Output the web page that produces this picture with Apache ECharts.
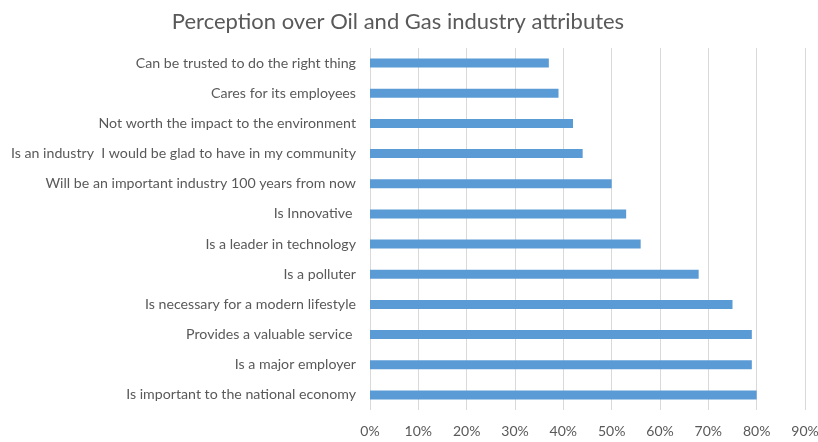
<!DOCTYPE html>
<html>
<head>
<meta charset="utf-8">
<script src="https://cdn.jsdelivr.net/npm/echarts@6/dist/echarts.min.js"></script>
<style>
  html, body { margin: 0; padding: 0; background: #fff; }
  #chart { width: 818px; height: 442px; }
</style>
</head>
<body>
<div id="chart"></div>
<script>
// Attribute statements, listed top to bottom
const categories = [
  "Can be trusted to do the right thing",
  "Cares for its employees",
  "Not worth the impact to the environment",
  "Is an industry  I would be glad to have in my community",
  "Will be an important industry 100 years from now",
  "Is Innovative ",
  "Is a leader in technology",
  "Is a polluter",
  "Is necessary for a modern lifestyle",
  "Provides a valuable service ",
  "Is a major employer",
  "Is important to the national economy"
];

// Share of respondents agreeing (fraction)
const agreeShare = [0.37, 0.39, 0.42, 0.44, 0.50, 0.53, 0.56, 0.68, 0.75, 0.79, 0.79, 0.80];

const axisMax = 0.9;
const axisStep = 0.1;

const chart = echarts.init(document.getElementById('chart'));
chart.setOption({
  animation: false,
  textStyle: { fontFamily: 'Lato, "Open Sans", sans-serif' },
  title: {
    text: 'Perception over Oil and Gas industry attributes',
    left: 393,
    textAlign: 'center',
    top: 6,
    textStyle: { fontSize: 22, fontWeight: 'normal', color: '#595959', fontFamily: 'Lato, "Open Sans", sans-serif' }
  },
  grid: { left: 370, right: 13, top: 48, bottom: 32, containLabel: false, outerBoundsMode: 'none' },
  xAxis: {
    type: 'value',
    min: 0,
    max: axisMax,
    interval: axisStep,
    axisLine: { show: false },
    axisTick: { show: false },
    splitLine: { show: true, lineStyle: { color: '#D9D9D9', width: 1 } },
    axisLabel: {
      color: '#595959',
      fontSize: 14,
      margin: 14,
      formatter: v => Math.round(v * 100) + '%'
    }
  },
  yAxis: {
    type: 'category',
    data: categories,
    inverse: true,
    axisLine: { show: false },
    axisTick: { show: false },
    axisLabel: { color: '#595959', fontSize: 14.2, margin: 14 }
  },
  series: [{
    type: 'bar',
    data: agreeShare,
    barWidth: 9,
    itemStyle: { color: '#5B9BD5' }
  }]
});
</script>
</body>
</html>
